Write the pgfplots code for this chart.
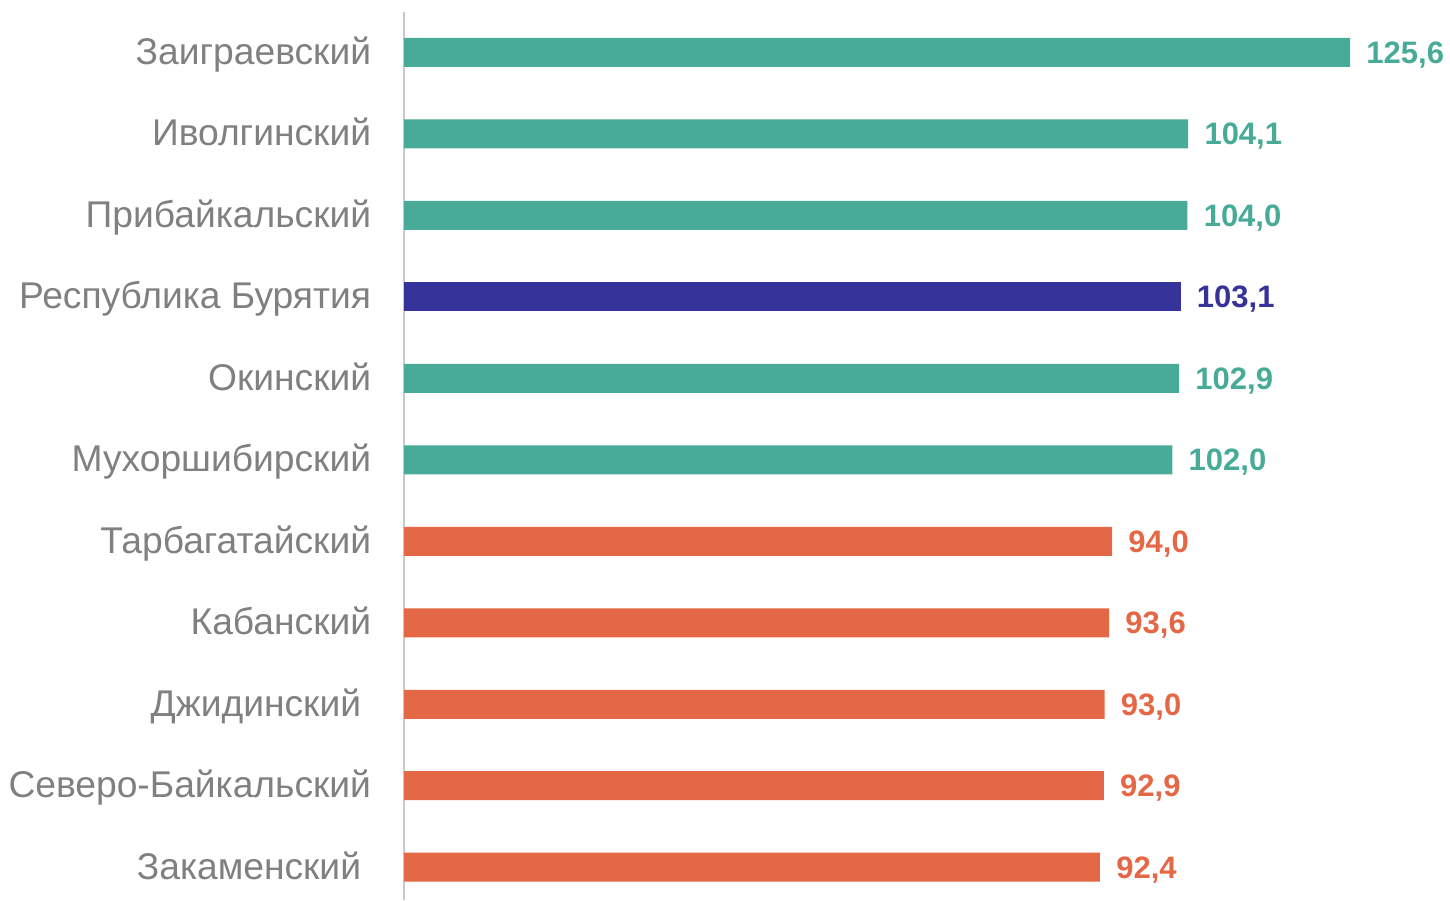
\documentclass[border=0pt]{standalone}
\usepackage{pgfplots}
\pgfplotsset{compat=1.18}
\usepackage{fontspec}
\setmainfont{Liberation Sans}

\definecolor{teal}{RGB}{71,171,151}
\definecolor{navy}{RGB}{53,51,154}
\definecolor{coral}{RGB}{228,104,70}
\definecolor{lblgray}{RGB}{128,128,128}
\definecolor{axgray}{RGB}{200,200,200}

\begin{document}
\begin{tikzpicture}
\useasboundingbox (0,0) rectangle (725pt,450pt);
\begin{axis}[
    at={(202pt,0pt)}, anchor=south west,
    scale only axis,
    width=489.6pt, height=444pt,
    xmin=0, xmax=130,
    ymin=-0.4026, ymax=10.497,
    xbar, bar width=14.5pt, bar shift=0pt,
    hide x axis,
    axis y line*=left,
    y axis line style={draw=axgray, line width=1.15pt},
    ytick={0,...,10},
    yticklabels={Закаменский\kern5pt, Северо-Байкальский, Джидинский\kern5pt, Кабанский, Тарбагатайский, Мухоршибирский, Окинский, Республика Бурятия, Прибайкальский, Иволгинский, Заиграевский},
    ytick style={draw=none},
    yticklabel style={font=\fontsize{18.6}{18.6}\selectfont, text=lblgray, anchor=base east, inner sep=0pt, xshift=-12pt, yshift=-5.9pt},
    clip=false,
    nodes near coords,
    /pgf/number format/.cd, fixed, fixed zerofill, precision=1, use comma, assume math mode=true,
    /pgfplots/.cd,
    every node near coord/.append style={font=\fontsize{15.5}{15.5}\selectfont\bfseries, anchor=base west, inner sep=0pt, xshift=8pt, yshift=-5.5pt},
]
\addplot[fill=teal, draw=none, every node near coord/.append style={text=teal}] coordinates {
    (125.6,10) (104.1,9) (104.0,8) (102.9,6) (102.0,5)
};
\addplot[fill=navy, draw=none, every node near coord/.append style={text=navy}] coordinates {
    (103.1,7)
};
\addplot[fill=coral, draw=none, every node near coord/.append style={text=coral}] coordinates {
    (94.0,4) (93.6,3) (93.0,2) (92.9,1) (92.4,0)
};
\end{axis}
\end{tikzpicture}
\end{document}
